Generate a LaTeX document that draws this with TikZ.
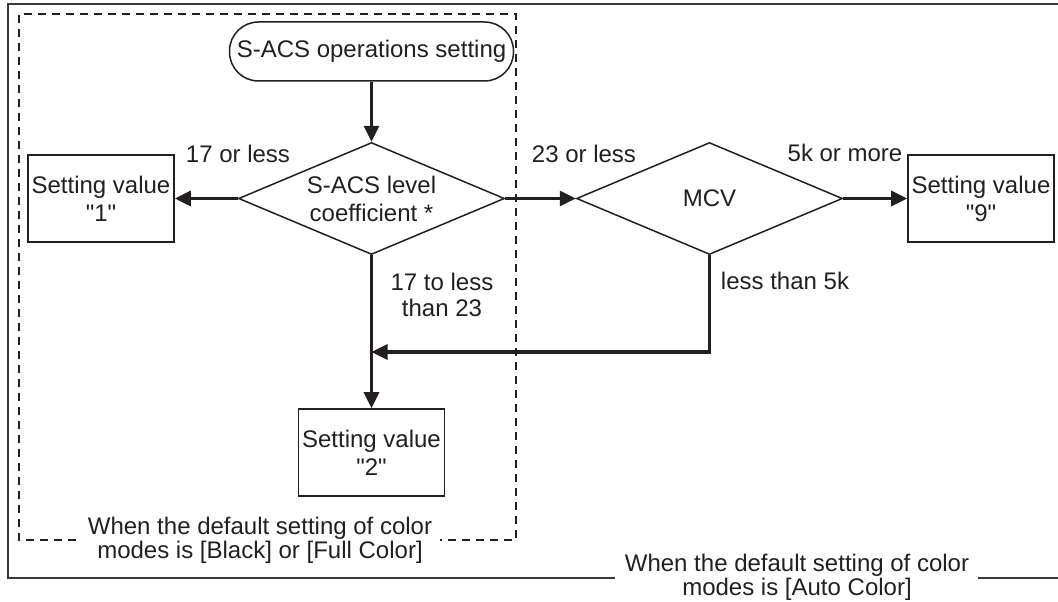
\documentclass[tikz,border=0pt]{standalone}
\usepackage{fontspec}
\setmainfont{Liberation Sans}[Ligatures=TeXOff]
\usetikzlibrary{arrows.meta,shapes.geometric}
\definecolor{ink}{HTML}{231F20}
\definecolor{framegray}{HTML}{3A3A3A}
\begin{document}
\begin{tikzpicture}[x=1pt,y=-1pt,
  every node/.style={text=ink, font=\fontsize{24}{28}\selectfont},
  valbox/.style={draw=ink, line width=1.6pt, minimum width=146pt, minimum height=87pt, align=center, inner sep=0pt},
  decision/.style={draw=ink, line width=1.5pt, diamond, minimum width=266pt, minimum height=112pt, inner sep=0pt},
  startbox/.style={draw=ink, line width=1.5pt, rounded corners=29pt, minimum width=284pt, minimum height=59pt, inner sep=0pt},
  flow/.style={draw=ink, line width=3.3pt, -{Triangle[length=16pt,width=15pt]}},
  lbl/.style={inner sep=0pt, align=center},
  caption/.style={inner sep=0pt, align=center, font=\fontsize{24}{24}\selectfont},
  framestyle/.style={draw=framegray, line width=1.4pt},
  dashbox/.style={draw=ink, line width=1.1pt, dash pattern=on 8pt off 6pt}
]
\useasboundingbox (0,0) rectangle (1058,602);

% frames
\draw[framestyle] (1058,4) -- (8,4) -- (8,578) -- (615,578);
\draw[framestyle] (978,578) -- (1058,578);
\draw[dashbox] (76,540) -- (19,540) -- (19,14) -- (516,14) -- (516,540) -- (440,540);

% nodes
\node[startbox] (start) at (371.5,51.5) {S-ACS operations setting};
\node[decision] (d1) at (371.5,198.5) {};
\node[lbl] (d1t) at (371.5,198.5) {S-ACS level\\coefficient *};
\node[decision] (d2) at (709.5,198.5) {};
\node[lbl] (d2t) at (709.5,198.5) {MCV};
\node[valbox] (v1) at (101,198.5) {Setting value\\"1"};
\node[valbox] (v9) at (981,198.5) {Setting value\\"9"};
\node[valbox] (v2) at (371.5,452.5) {Setting value\\"2"};
\coordinate (j) at (371.5,352);

% connectors
\draw[flow] (start) -- (d1);
\draw[flow] (d1) -- (v1);
\draw[flow] (d1) -- (d2);
\draw[flow] (d2) -- (v9);
\draw[flow] (d1.south) -- (v2.north);
\draw[flow] (d2.south) |- (j);

% labels
\node[lbl] (l17) at (238,154) {17 or less};
\node[lbl] (l23) at (584,154) {23 or less};
\node[lbl] (l5k) at (845,153) {5k or more};
\node[lbl] (lless5k) at (785,281) {less than 5k};
\node[lbl, font=\fontsize{24}{26}\selectfont] (l1723) at (442,295) {17 to less\\than 23};

% captions
\node[caption] (capL) at (260,540) {When the default setting of color\\modes is [Black] or [Full Color]};
\node[caption] (capR) at (797,577) {When the default setting of color\\modes is [Auto Color]};
\end{tikzpicture}
\end{document}
